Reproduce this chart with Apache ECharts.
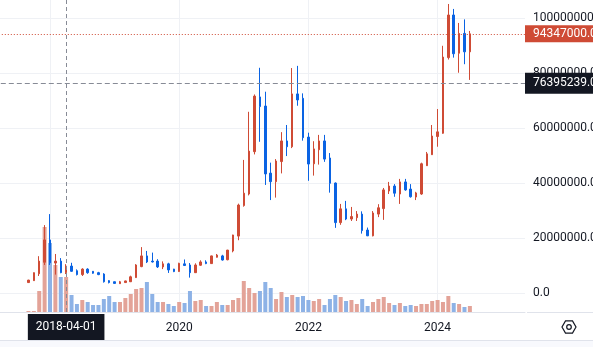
<!DOCTYPE html>
<html><head><meta charset="utf-8">
<script src="https://cdn.jsdelivr.net/npm/echarts@6/dist/echarts.min.js"></script>
<style>html,body{margin:0;padding:0;background:#fff}#c{width:593px;height:347px}</style>
</head><body><div id="c"></div>
<script>
// ---- data (prices in millions of KRW) ----
const months = ['2017-09','2017-10','2017-11','2017-12',
'2018-01','2018-02','2018-03','2018-04','2018-05','2018-06','2018-07','2018-08','2018-09','2018-10','2018-11','2018-12',
'2019-01','2019-02','2019-03','2019-04','2019-05','2019-06','2019-07','2019-08','2019-09','2019-10','2019-11','2019-12',
'2020-01','2020-02','2020-03','2020-04','2020-05','2020-06','2020-07','2020-08','2020-09','2020-10','2020-11','2020-12',
'2021-01','2021-02','2021-03','2021-04','2021-05','2021-06','2021-07','2021-08','2021-09','2021-10','2021-11','2021-12',
'2022-01','2022-02','2022-03','2022-04','2022-05','2022-06','2022-07','2022-08','2022-09','2022-10','2022-11','2022-12',
'2023-01','2023-02','2023-03','2023-04','2023-05','2023-06','2023-07','2023-08','2023-09','2023-10','2023-11','2023-12',
'2024-01','2024-02','2024-03','2024-04','2024-05','2024-06','2024-07'];
const opens = [3.9,4.6,7.1,11.3,
19.4,11.0,11.7,7.5,9.9,8.2,6.8,8.8,8.0,7.5,7.0,4.6,
4.2,3.5,3.9,4.2,5.7,9.7,13.6,11.7,11.7,9.6,10.7,8.8,
7.9,10.7,10.3,7.5,10.2,11.4,10.8,13.1,13.6,12.2,15.4,20.8,
31.9,36.1,51.5,71.4,68.1,43.7,40.6,47.9,55.4,53.3,72.5,70.9,
56.8,47.1,52.2,55.4,49.2,40.1,25.7,30.7,27.0,27.5,28.8,23.0,
20.9,28.8,30.8,37.2,39.0,36.1,40.5,37.9,35.0,36.1,46.4,50.4,
57.0,58.2,85.7,101.2,87.3,94.5,87.8];
const highs = [4.9,7.6,13.5,24.8,
28.8,14.3,12.8,10.6,11.1,8.7,9.1,9.1,8.1,7.8,7.3,4.8,
4.3,4.5,4.6,6.4,10.6,16.8,15.4,14.8,12.4,11.6,11.1,8.9,
11.1,12.3,11.0,10.9,12.0,12.0,13.7,14.3,14.0,15.8,21.3,32.6,
48.5,66.0,72.3,82.0,73.3,47.5,48.8,58.6,61.2,81.9,82.7,72.7,
58.4,55.3,57.6,57.6,51.0,40.3,32.5,33.6,31.4,29.9,29.8,23.9,
29.9,32.4,38.3,40.5,39.7,41.6,41.6,39.7,36.9,47.5,51.4,61.2,
67.0,90.0,105.2,103.4,98.3,99.6,95.4];
const lows = [3.8,4.5,6.3,10.3,
10.3,6.8,7.3,7.0,7.8,6.5,6.3,7.1,7.1,6.6,3.9,3.6,
3.5,3.4,3.8,4.1,5.6,9.5,11.0,11.2,9.2,8.8,7.4,7.7,
7.8,10.0,5.7,7.4,10.0,10.6,10.7,13.0,11.9,12.0,14.9,19.3,
31.5,35.6,50.5,55.1,39.4,33.9,34.8,43.6,49.9,52.8,68.2,55.5,
40.9,42.8,46.8,47.8,36.6,23.8,24.9,26.6,26.3,26.3,21.7,20.8,
20.7,27.7,26.7,36.1,35.1,32.5,37.3,34.8,33.9,35.8,46.3,50.3,
53.3,58.0,85.0,85.7,80.2,83.3,77.6];
const closes = [4.8,7.5,11.7,19.4,
11.1,11.7,7.5,9.9,8.0,6.8,8.8,7.5,7.3,6.8,4.2,3.9,
3.6,4.2,4.5,6.0,10.3,13.6,11.4,11.4,9.6,10.7,8.5,7.9,
10.9,10.1,7.5,10.3,11.4,10.8,13.6,13.9,12.1,15.7,21.2,32.1,
36.4,51.7,71.7,67.9,43.4,40.6,48.1,55.4,53.3,72.5,70.3,56.6,
47.0,52.5,55.4,48.8,40.0,25.7,30.7,27.0,27.9,28.8,22.8,20.9,
29.2,31.1,37.6,39.0,36.4,40.5,37.6,35.1,36.5,47.1,50.7,57.2,
58.7,85.9,101.2,87.1,94.5,87.8,94.347];
const volumes = [1,1,21,85,
69,47,35,35,17,8,12,10,7,7,13,16,
10,10,14,18,23,24,30,18,10,10,8,6,
10,9,21,11,12,6,6,10,7,7,12,14,
31,24,19,21,30,24,13,20,15,17,15,16,
12,11,13,7,13,17,15,11,12,8,13,6,
10,13,15,9,7,9,6,7,6,8,8,11,
12,10,16,9,8,5,6];
const yearLabels = ['2018','2020','2022','2024'];
const lastPrice = 94347000;
const crossPrice = 76395239;
const crossMonth = '2018-04';
const crossLabel = '2018-04-01';

// ---- build ----
const UNIT = 1e6;
const RED = '#cf4b35', BLUE = '#0a63e3', VRED = '#e3a398', VBLUE = '#8db2e6';
const TEXT = '#131722', GRIDC = '#eff1f5', CROSS = '#878b96';
const FONT = 'Roboto, "Noto Sans", sans-serif';
const monthIndex = s => (parseInt(s.slice(0, 4)) - 2018) * 12 + parseInt(s.slice(5, 7)) - 1;
const xs = months.map(monthIndex);
const candleData = months.map((m, i) => [xs[i], opens[i] * UNIT, closes[i] * UNIT, lows[i] * UNIT, highs[i] * UNIT]);
const volData = months.map((m, i) => [xs[i], volumes[i]]);

const hex = [];
for (let k = 0; k < 6; k++) { const a = Math.PI / 3 * k; hex.push([569 + 7 * Math.cos(a), 327 + 7 * Math.sin(a)]); }

const chart = echarts.init(document.getElementById('c'), null, {renderer: 'canvas'});
chart.setOption({
  animation: false,
  backgroundColor: '#ffffff',
  textStyle: {fontFamily: FONT},
  grid: [
    {left: -79.2, right: 68, top: 0, bottom: 53.7, containLabel: false, outerBoundsMode: 'none'},
    {left: -79.2, right: 68, top: 0, bottom: 35, containLabel: false, outerBoundsMode: 'none'}
  ],
  xAxis: [
    {type: 'value', gridIndex: 0, min: -24, max: 88.24, show: false},
    {type: 'value', gridIndex: 1, min: -24, max: 88.24, interval: 24,
     axisLine: {show: true, lineStyle: {color: '#e0e3eb'}},
     axisTick: {show: false},
     axisLabel: {color: TEXT, fontSize: 12, margin: 10, fontFamily: FONT,
       showMinLabel: false, showMaxLabel: false,
       formatter: v => { const y = String(2018 + v / 12); return yearLabels.includes(y) ? y : ''; }},
     splitLine: {show: true, showMinLine: false, showMaxLine: false, lineStyle: {color: GRIDC}}}
  ],
  yAxis: [
    {type: 'value', gridIndex: 0, position: 'right', min: 0, max: 106.65e6, interval: 20e6,
     axisLine: {show: false}, axisTick: {show: false},
     axisLabel: {color: TEXT, fontSize: 12, margin: 8, fontFamily: FONT, showMaxLabel: false,
       formatter: v => v.toFixed(1)},
     splitLine: {show: true, showMaxLine: false, lineStyle: {color: GRIDC}}},
    {type: 'value', gridIndex: 1, min: 0, max: 312, show: false}
  ],
  series: [
    {type: 'bar', xAxisIndex: 1, yAxisIndex: 1, data: volData, barWidth: 4,
     itemStyle: {color: p => closes[p.dataIndex] >= opens[p.dataIndex] ? VRED : VBLUE},
     markLine: {silent: true, symbol: ['none', 'none'], animation: false,
       lineStyle: {color: CROSS, type: [4, 3], width: 1},
       label: {show: true, position: 'start', distance: 2, formatter: crossLabel,
         backgroundColor: TEXT, color: '#ffffff', fontSize: 12, lineHeight: 14, padding: [6, 8, 6, 8], fontFamily: FONT},
       data: [{xAxis: monthIndex(crossMonth)}]}},
    {type: 'candlestick', xAxisIndex: 0, yAxisIndex: 0, data: candleData, barWidth: 2,
     itemStyle: {color: RED, color0: BLUE, borderColor: RED, borderColor0: BLUE, borderWidth: 1},
     markLine: {silent: true, symbol: ['none', 'none'], animation: false,
       data: [
         {yAxis: lastPrice,
          lineStyle: {color: RED, type: [1, 2], width: 1},
          label: {show: true, position: 'end', distance: 0, formatter: lastPrice.toFixed(1),
            backgroundColor: RED, color: '#ffffff', fontSize: 12, lineHeight: 13, padding: [2, 8, 2, 8], fontFamily: FONT}},
         {yAxis: crossPrice,
          lineStyle: {color: CROSS, type: [5, 3], width: 1},
          label: {show: true, position: 'end', distance: 0, formatter: crossPrice.toFixed(1),
            backgroundColor: TEXT, color: '#ffffff', fontSize: 12, lineHeight: 13, padding: [4, 8, 4, 8], fontFamily: FONT}}
       ]}}
  ],
  graphic: [
    {type: 'line', shape: {x1: 527, y1: 312.5, x2: 593, y2: 312.5}, style: {stroke: '#e0e3eb', lineWidth: 1}},
    {type: 'rect', shape: {x: 0, y: 340, width: 593, height: 7}, style: {fill: '#f8f9fd'}},
    {type: 'line', shape: {x1: 0, y1: 340.5, x2: 593, y2: 340.5}, style: {stroke: '#e0e3eb', lineWidth: 1}},
    {type: 'polygon', shape: {points: hex}, style: {fill: 'none', stroke: TEXT, lineWidth: 1.2}},
    {type: 'circle', shape: {cx: 569, cy: 327, r: 2.3}, style: {fill: 'none', stroke: TEXT, lineWidth: 1.2}}
  ]
});
</script></body></html>
